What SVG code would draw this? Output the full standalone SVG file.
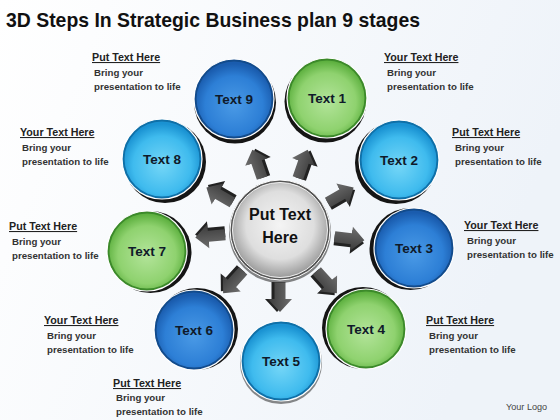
<svg xmlns="http://www.w3.org/2000/svg" xmlns:xlink="http://www.w3.org/1999/xlink" width="560" height="420" viewBox="0 0 560 420">
<defs>
<linearGradient id="bg" x1="0" y1="0" x2="1" y2="0.3">
<stop offset="0" stop-color="#ffffff"/>
<stop offset="1" stop-color="#eef3f9"/>
</linearGradient>
<radialGradient id="gGreen" cx="50%" cy="55%" r="55%">
<stop offset="0" stop-color="#b3e49a"/>
<stop offset="0.7" stop-color="#8fd26f"/>
<stop offset="1" stop-color="#5aae3c"/>
</radialGradient>
<radialGradient id="gCyan" cx="50%" cy="58%" r="55%">
<stop offset="0" stop-color="#74d6f7"/>
<stop offset="0.7" stop-color="#3fbbee"/>
<stop offset="1" stop-color="#1a92d2"/>
</radialGradient>
<radialGradient id="gBlue" cx="50%" cy="58%" r="55%">
<stop offset="0" stop-color="#4a9ae6"/>
<stop offset="0.7" stop-color="#2d7fd6"/>
<stop offset="1" stop-color="#1a5cae"/>
</radialGradient>
<radialGradient id="gCenter" cx="50%" cy="45%" r="55%">
<stop offset="0" stop-color="#f4f4f4"/>
<stop offset="0.65" stop-color="#dedede"/>
<stop offset="1" stop-color="#9a9a9a"/>
</radialGradient>
<linearGradient id="gArrow" x1="0" y1="0" x2="0" y2="1">
<stop offset="0" stop-color="#6e6e6e"/>
<stop offset="1" stop-color="#3a3a3a"/>
</linearGradient>
<g id="arrow">
<polygon points="0,-2.5 17,-2.5 17,-9 30,3 17,15 17,8.5 0,8.5" fill="#222"/>
<polygon points="0,-5.5 17,-5.5 17,-12 30,0 17,12 17,5.5 0,5.5" fill="url(#gArrow)"/>
</g>
</defs>
<style>
.title{font-family:"Liberation Sans",Arial,sans-serif;font-weight:bold;font-size:21px;fill:#111}
.ct{font-family:"Liberation Sans",Arial,sans-serif;font-weight:bold;font-size:13.5px;fill:#0f1a2a;text-anchor:middle}
.cc{font-family:"Liberation Sans",Arial,sans-serif;font-weight:bold;font-size:16px;fill:#111;text-anchor:middle}
.h{font-family:"Liberation Sans",Arial,sans-serif;font-weight:bold;font-size:10.7px;fill:#222;text-decoration:underline}
.b{font-family:"Liberation Sans",Arial,sans-serif;font-weight:bold;font-size:9.7px;fill:#333}
.logo{font-family:"Liberation Sans",Arial,sans-serif;font-size:9.1px;fill:#444}
.sh{fill:#151515}
.rimG{fill:#3c8a2a;stroke:#fff;stroke-width:1.2}
.rimC{fill:#0f70a8;stroke:#fff;stroke-width:1.2}
.rimB{fill:#124b8c;stroke:#fff;stroke-width:1.2}
</style>
<rect width="560" height="420" fill="url(#bg)"/>
<text class="title" x="6" y="27" textLength="414" lengthAdjust="spacingAndGlyphs">3D Steps In Strategic Business plan 9 stages</text>

<g id="connectors">
<use xlink:href="#arrow" transform="translate(280,230) rotate(-109) translate(55,0)"/>
<use xlink:href="#arrow" transform="translate(280,230) rotate(-71) translate(55,0)"/>
<use xlink:href="#arrow" transform="translate(280,230) rotate(-30) translate(55,0)"/>
<use xlink:href="#arrow" transform="translate(280,230) rotate(7) translate(55,0)"/>
<use xlink:href="#arrow" transform="translate(280,230) rotate(48) translate(55,0)"/>
<use xlink:href="#arrow" transform="translate(280,230) rotate(90) translate(52,0)"/>
<use xlink:href="#arrow" transform="translate(280,230) rotate(132) translate(55,0)"/>
<use xlink:href="#arrow" transform="translate(280,230) rotate(175) translate(55,0)"/>
<use xlink:href="#arrow" transform="translate(280,230) rotate(210) translate(55,0)"/>
</g>

<g id="center">
<circle cx="280" cy="232" r="51" fill="#333" opacity="0.6"/>
<circle cx="280" cy="230" r="50" fill="#555" stroke="#fff" stroke-width="1"/>
<circle cx="280" cy="230" r="47.5" fill="url(#gCenter)" stroke="#f2f2f2" stroke-width="1"/>
<text class="cc" x="280" y="220">Put Text</text>
<text class="cc" x="280" y="243">Here</text>
</g>

<g id="node-1" transform="translate(327,98)">
<circle class="sh" cx="-1.5" cy="3.5" r="41"/>
<circle class="rimG" r="40"/>
<circle r="37.5" fill="url(#gGreen)"/>
<text class="ct" y="4.5">Text 1</text>
</g>
<g id="node-2" transform="translate(399,160)">
<circle class="sh" cx="-3" cy="3" r="41"/>
<circle class="rimC" r="40"/>
<circle r="37.5" fill="url(#gCyan)"/>
<text class="ct" y="4.5">Text 2</text>
</g>
<g id="node-3" transform="translate(414,248)">
<circle class="sh" cx="-3.5" cy="1" r="41"/>
<circle class="rimB" r="40"/>
<circle r="37.5" fill="url(#gBlue)"/>
<text class="ct" y="4.5">Text 3</text>
</g>
<g id="node-4" transform="translate(366,329)">
<circle class="sh" cx="-3" cy="-1" r="41"/>
<circle class="rimG" r="40"/>
<circle r="37.5" fill="url(#gGreen)"/>
<text class="ct" y="4.5">Text 4</text>
</g>
<g id="node-5" transform="translate(281,361)">
<circle class="sh" cx="0" cy="2" r="41" opacity="0.5"/>
<circle class="rimC" r="40"/>
<circle r="37.5" fill="url(#gCyan)"/>
<text class="ct" y="4.5">Text 5</text>
</g>
<g id="node-6" transform="translate(194,330)">
<circle class="sh" cx="3" cy="-1" r="41"/>
<circle class="rimB" r="40"/>
<circle r="37.5" fill="url(#gBlue)"/>
<text class="ct" y="4.5">Text 6</text>
</g>
<g id="node-7" transform="translate(147,251)">
<circle class="sh" cx="3.5" cy="1" r="41"/>
<circle class="rimG" r="40"/>
<circle r="37.5" fill="url(#gGreen)"/>
<text class="ct" y="4.5">Text 7</text>
</g>
<g id="node-8" transform="translate(162,159)">
<circle class="sh" cx="3" cy="3" r="41"/>
<circle class="rimC" r="40"/>
<circle r="37.5" fill="url(#gCyan)"/>
<text class="ct" y="4.5">Text 8</text>
</g>
<g id="node-9" transform="translate(234,99)">
<circle class="sh" cx="1" cy="3.5" r="41"/>
<circle class="rimB" r="40"/>
<circle r="37.5" fill="url(#gBlue)"/>
<text class="ct" y="4.5">Text 9</text>
</g>

<g id="label-9">
<text class="h" x="92" y="61">Put Text Here</text>
<text class="b" x="94" y="76">Bring your</text>
<text class="b" x="94" y="90">presentation to life</text>
</g>
<g id="label-8">
<text class="h" x="20" y="136">Your Text Here</text>
<text class="b" x="22" y="151">Bring your</text>
<text class="b" x="22" y="165">presentation to life</text>
</g>
<g id="label-7">
<text class="h" x="9" y="230">Put Text Here</text>
<text class="b" x="12" y="245">Bring your</text>
<text class="b" x="12" y="259">presentation to life</text>
</g>
<g id="label-6">
<text class="h" x="44" y="324">Your Text Here</text>
<text class="b" x="47" y="339">Bring your</text>
<text class="b" x="47" y="353">presentation to life</text>
</g>
<g id="label-5">
<text class="h" x="113" y="387">Put Text Here</text>
<text class="b" x="116" y="401">Bring your</text>
<text class="b" x="116" y="415">presentation to life</text>
</g>
<g id="label-1">
<text class="h" x="384" y="61">Your Text Here</text>
<text class="b" x="387" y="76">Bring your</text>
<text class="b" x="387" y="90">presentation to life</text>
</g>
<g id="label-2">
<text class="h" x="452" y="136">Put Text Here</text>
<text class="b" x="455" y="151">Bring your</text>
<text class="b" x="455" y="165">presentation to life</text>
</g>
<g id="label-3">
<text class="h" x="464" y="229">Your Text Here</text>
<text class="b" x="467" y="244">Bring your</text>
<text class="b" x="467" y="258">presentation to life</text>
</g>
<g id="label-4">
<text class="h" x="426" y="324">Put Text Here</text>
<text class="b" x="429" y="339">Bring your</text>
<text class="b" x="429" y="353">presentation to life</text>
</g>
<text class="logo" x="506" y="410">Your Logo</text>
</svg>
